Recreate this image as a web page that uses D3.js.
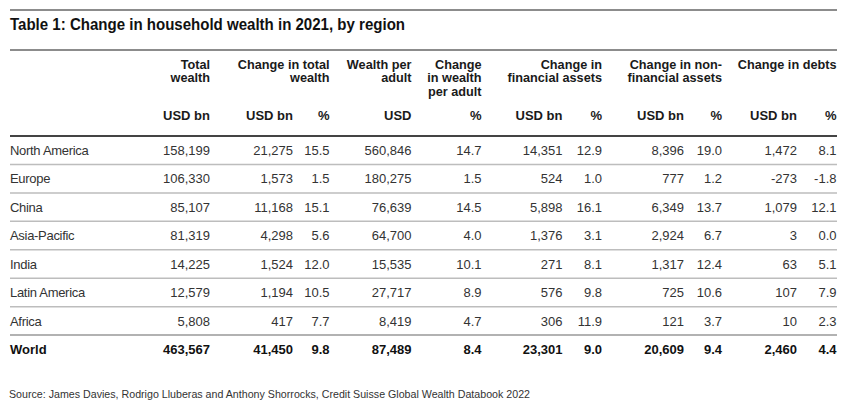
<!DOCTYPE html>
<html><head><meta charset="utf-8">
<script src="https://cdn.jsdelivr.net/npm/d3@7"></script>
<style>html,body{margin:0;padding:0;background:#fff}svg{display:block}text{font-family:"Liberation Sans",Arial,Helvetica,sans-serif}</style>
</head><body><svg id="c" width="856" height="408"></svg>
<script>
// ---- data ----
const title = "Table 1: Change in household wealth in 2021, by region";
const source = "Source: James Davies, Rodrigo Lluberas and Anthony Shorrocks, Credit Suisse Global Wealth Databook 2022";
const regions = ["North America","Europe","China","Asia-Pacific","India","Latin America","Africa","World"];
const totalWealth   = [158199,106330,85107,81319,14225,12579,5808,463567];
const changeTotal   = [21275,1573,11168,4298,1524,1194,417,41450];
const changeTotalPct= [15.5,1.5,15.1,5.6,12.0,10.5,7.7,9.8];
const wealthPerAdult= [560846,180275,76639,64700,15535,27717,8419,87489];
const changeWpaPct  = [14.7,1.5,14.5,4.0,10.1,8.9,4.7,8.4];
const finAssets     = [14351,524,5898,1376,271,576,306,23301];
const finAssetsPct  = [12.9,1.0,16.1,3.1,8.1,9.8,11.9,9.0];
const nonFinAssets  = [8396,777,6349,2924,1317,725,121,20609];
const nonFinPct     = [19.0,1.2,13.7,6.7,12.4,10.6,3.7,9.4];
const debts         = [1472,-273,1079,3,63,107,10,2460];
const debtsPct      = [8.1,-1.8,12.1,0.0,5.1,7.9,2.3,4.4];
const headerGroups  = [["Total","wealth"],["Change in total","wealth"],["Wealth per","adult"],["Change","in wealth","per adult"],["Change in","financial assets"],["Change in non-","financial assets"],["Change in debts"]];
const unitLabels    = ["USD bn","USD bn","%","USD","%","USD bn","%","USD bn","%","USD bn","%"];

// ---- layout ----
const svg = d3.select("#c");
const loc = d3.formatLocale({decimal:".",thousands:",",grouping:[3],currency:["$",""],minus:"-"});
const fInt = loc.format(","), fPct = loc.format(".1f");
const colRight = [210,293,329.5,411.5,481.5,562.5,602,684,722,797,836.5];
const groupRight = [210,329.5,411.5,481.5,602,722,836.5];
const columns = [
  [totalWealth,fInt],[changeTotal,fInt],[changeTotalPct,fPct],[wealthPerAdult,fInt],[changeWpaPct,fPct],
  [finAssets,fInt],[finAssetsPct,fPct],[nonFinAssets,fInt],[nonFinPct,fPct],[debts,fInt],[debtsPct,fPct]
];
const x0 = 10, x1 = 837;
const y = d3.scaleBand().domain(regions).range([136,363.5]);

// title
svg.append("text").attr("x",10).attr("y",30).attr("font-size",16).attr("font-weight","bold")
  .attr("fill","#111").attr("textLength",395).attr("lengthAdjust","spacingAndGlyphs").text(title);

// rules
svg.append("line").attr("x1",x0).attr("x2",x1).attr("y1",10).attr("y2",10).attr("stroke","#666").attr("stroke-width",1.5);
svg.append("line").attr("x1",x0).attr("x2",x1).attr("y1",50).attr("y2",50).attr("stroke","#666").attr("stroke-width",1.5);

// header groups
headerGroups.forEach((lines,i)=>{
  const t = svg.append("text").attr("text-anchor","end").attr("font-size",12.7).attr("font-weight","bold").attr("fill","#1a1a1a");
  lines.forEach((l,j)=>t.append("tspan").attr("x",groupRight[i]).attr("y",69+j*13.3).text(l));
});
unitLabels.forEach((u,i)=>{
  svg.append("text").attr("x",colRight[i]).attr("y",120).attr("text-anchor","end").attr("font-size",13)
    .attr("font-weight","bold").attr("fill","#1a1a1a").text(u);
});

// row separators
regions.slice(1).forEach(r=>{
  svg.append("line").attr("x1",x0).attr("x2",x1).attr("y1",y(r)).attr("y2",y(r))
    .attr("stroke", r==="World" ? "#999" : "#bdbdbd").attr("stroke-width",1.5);
});
svg.append("line").attr("x1",x0).attr("x2",x1).attr("y1",136).attr("y2",136).attr("stroke","#444").attr("stroke-width",2);

// rows
regions.forEach((r,ri)=>{
  const bold = r==="World";
  const cy = y(r)+y.bandwidth()/2;
  svg.append("text").attr("x",10).attr("y",cy).attr("dy","0.36em").attr("font-size",13)
    .attr("letter-spacing", bold ? 0 : -0.3)
    .attr("font-weight",bold?"bold":"normal").attr("fill",bold?"#111":"#333").text(r);
  columns.forEach(([arr,f],ci)=>{
    svg.append("text").attr("x",colRight[ci]).attr("y",cy).attr("dy","0.36em").attr("text-anchor","end")
      .attr("font-size",13).attr("font-weight",bold?"bold":"normal").attr("fill",bold?"#111":"#333").text(f(arr[ri]));
  });
});

// source
svg.append("text").attr("x",9).attr("y",398).attr("font-size",11).attr("fill","#333")
  .attr("textLength",521).attr("lengthAdjust","spacingAndGlyphs").text(source);
</script></body></html>
